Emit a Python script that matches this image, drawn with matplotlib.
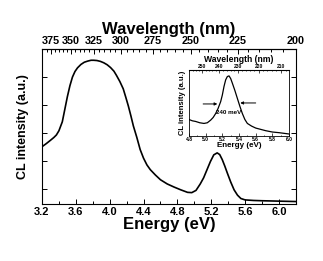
import matplotlib
matplotlib.use("Agg")
import matplotlib.pyplot as plt
from matplotlib.ticker import MultipleLocator, FixedLocator
import numpy as np

plt.rcParams['font.family'] = ['Liberation Sans', 'DejaVu Sans']
plt.rcParams['font.weight'] = 'bold'

# Main spectrum (energy in eV, CL intensity in a.u.)
energy = [3.20, 3.25, 3.30, 3.34, 3.37, 3.40, 3.44, 3.47, 3.50, 3.53, 3.56,
          3.59, 3.62, 3.66, 3.70, 3.74, 3.78, 3.81, 3.85, 3.89, 3.93, 3.97,
          4.01, 4.05, 4.08, 4.12, 4.16, 4.19, 4.22, 4.25, 4.28, 4.32, 4.36,
          4.40, 4.44, 4.48, 4.54, 4.60, 4.68, 4.76, 4.84, 4.92, 4.97, 5.02,
          5.07, 5.11, 5.15, 5.19, 5.23, 5.27, 5.30, 5.33, 5.36, 5.39, 5.43,
          5.47, 5.51, 5.55, 5.60, 5.70, 5.80, 5.94, 6.08, 6.22]
intensity = [2.51, 2.62, 2.74, 2.84, 2.93, 3.08, 3.40, 3.85, 4.30, 4.69, 5.00,
             5.20, 5.33, 5.45, 5.53, 5.57, 5.60, 5.60, 5.59, 5.56, 5.51, 5.44,
             5.34, 5.21, 5.06, 4.84, 4.58, 4.28, 3.97, 3.62, 3.25, 2.85, 2.41,
             2.10, 1.86, 1.69, 1.50, 1.33, 1.18, 1.07, 0.97, 0.88, 0.87, 0.95,
             1.18, 1.40, 1.69, 1.98, 2.22, 2.29, 2.23, 2.05, 1.82, 1.57, 1.25,
             0.97, 0.78, 0.66, 0.61, 0.59, 0.58, 0.57, 0.56, 0.55]

# Inset spectrum (zoom on the 5.27 eV peak)
inset_energy = [4.80, 4.84, 4.88, 4.93, 4.98, 5.02, 5.06, 5.09, 5.12, 5.15,
                5.18, 5.20, 5.22, 5.24, 5.26, 5.28, 5.30, 5.32, 5.35, 5.38,
                5.41, 5.44, 5.47, 5.50, 5.55, 5.60, 5.66, 5.72, 5.80, 5.88,
                5.94, 6.00]
inset_intensity = [0.25, 0.23, 0.22, 0.20, 0.19, 0.20, 0.24, 0.28, 0.34, 0.42,
                   0.52, 0.62, 0.75, 0.85, 0.90, 0.91, 0.87, 0.80, 0.69, 0.57,
                   0.45, 0.34, 0.25, 0.19, 0.15, 0.12, 0.10, 0.08, 0.06, 0.05,
                   0.04, 0.03]

main_xticks = [3.2, 3.6, 4.0, 4.4, 4.8, 5.2, 5.6, 6.0]
main_nm_ticks = [375, 350, 325, 300, 275, 250, 225, 200]
inset_xticks = [4.8, 5.0, 5.2, 5.4, 5.6, 5.8, 6.0]
inset_nm_ticks = [250, 240, 230, 220, 210]
fwhm_label = "240 meV"

HC = 1239.84

def e2nm(e):
    e = np.asarray(e, dtype=float)
    with np.errstate(divide='ignore'):
        return HC / e

def nm2e(w):
    w = np.asarray(w, dtype=float)
    with np.errstate(divide='ignore'):
        return HC / w

fig = plt.figure(figsize=(3.23, 2.61), dpi=100)
ax = fig.add_axes([0.130, 0.218, 0.786, 0.594])
ax.plot(energy, intensity, color='black', lw=1.2)
ax.set_xlim(3.2, 6.2)
ax.set_ylim(0.46, 6.0)
ax.set_xticks(main_xticks)
ax.set_xticklabels([f"{v:.1f}" for v in main_xticks], fontsize=8, fontweight='bold')
ax.xaxis.set_minor_locator(MultipleLocator(0.2))
ax.set_yticks([1, 2, 3, 4, 5])
ax.set_yticklabels([])
ax.tick_params(axis='both', which='both', direction='in', width=0.7)
ax.tick_params(axis='x', which='major', length=3.5, pad=2)
ax.tick_params(axis='x', which='minor', length=2)
ax.tick_params(axis='y', which='major', length=3.5, right=True)
ax.set_xlabel("Energy (eV)", fontsize=12, fontweight='bold', labelpad=0)
ax.set_ylabel("CL intensity (a.u.)", fontsize=9, fontweight='bold', labelpad=6)
for s in ax.spines.values():
    s.set_linewidth(0.8)

top = ax.secondary_xaxis('top', functions=(e2nm, nm2e))
top.set_xticks(main_nm_ticks)
top.set_xticklabels([str(v) for v in main_nm_ticks], fontsize=7.8, fontweight='bold')
top.xaxis.set_minor_locator(FixedLocator(list(range(200, 381, 5))))
top.tick_params(axis='x', which='both', direction='in', width=0.7, pad=2)
top.tick_params(axis='x', which='major', length=3.5)
top.tick_params(axis='x', which='minor', length=2)
top.set_xlabel("Wavelength (nm)", fontsize=12, fontweight='bold', labelpad=2)

# Inset
ins = fig.add_axes([0.585, 0.479, 0.310, 0.253])
ins.plot(inset_energy, inset_intensity, color='black', lw=0.9)
ins.set_xlim(4.8, 6.0)
ins.set_ylim(0, 1.0)
ins.set_xticks(inset_xticks)
ins.set_xticklabels([f"{v:.1f}" for v in inset_xticks], fontsize=3.6, fontweight='bold')
ins.xaxis.set_minor_locator(MultipleLocator(0.1))
ins.set_yticks([])
ins.tick_params(axis='both', which='both', direction='in', width=0.5)
ins.tick_params(axis='x', which='major', length=2, pad=1)
ins.tick_params(axis='x', which='minor', length=1)
ins.set_xlabel("Energy (eV)", fontsize=5.8, fontweight='bold', labelpad=0)
ins.set_ylabel("CL intensity (a.u.)", fontsize=5.5, fontweight='bold', labelpad=2)
for s in ins.spines.values():
    s.set_linewidth(0.6)

itop = ins.secondary_xaxis('top', functions=(e2nm, nm2e))
itop.set_xticks(inset_nm_ticks)
itop.set_xticklabels([str(v) for v in inset_nm_ticks], fontsize=3.6, fontweight='bold')
itop.xaxis.set_minor_locator(FixedLocator(list(range(206, 260, 2))))
itop.tick_params(axis='x', which='both', direction='in', width=0.5, pad=1)
itop.tick_params(axis='x', which='major', length=2)
itop.tick_params(axis='x', which='minor', length=1)
itop.set_xlabel("Wavelength (nm)", fontsize=6.2, fontweight='bold', labelpad=1)

ins.annotate("", xy=(5.14, 0.485), xytext=(4.97, 0.485),
             arrowprops=dict(arrowstyle='-|>', color='black', lw=0.7, mutation_scale=4,
                             shrinkA=0, shrinkB=0))
ins.annotate("", xy=(5.415, 0.50), xytext=(5.60, 0.50),
             arrowprops=dict(arrowstyle='-|>', color='black', lw=0.7, mutation_scale=4,
                             shrinkA=0, shrinkB=0))
ins.text(5.28, 0.36, fwhm_label, fontsize=4.5, fontweight='bold', ha='center', va='center')

fig.savefig("out.png", dpi=100)
